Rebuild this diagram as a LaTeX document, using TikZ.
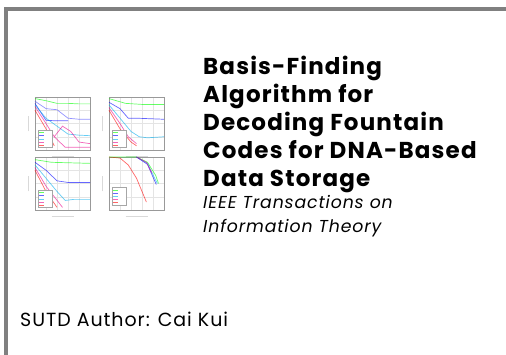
\documentclass[tikz,border=0pt]{standalone}
\usepackage{fontspec}
\setmainfont{Poppins}[LetterSpace=5]
\usetikzlibrary{positioning}

\definecolor{framegray}{RGB}{128,128,128}
\definecolor{gridgray}{RGB}{228,228,228}

\tikzset{
  panelbox/.style={draw=black!40, line width=0.4pt},
  panelgrid/.style={draw=gridgray, line width=0.3pt},
  curve/.style={line width=0.7pt, opacity=0.6},
  legendbox/.style={draw=black!35, fill=white, line width=0.3pt},
  captionline/.style={draw=black!15, line width=0.9pt},
}

% one small plot, drawn in unit coordinates
\newcommand{\plotpanel}[2]{%
  \begin{scope}[shift={(#1,#2)}, x=55pt, y=53pt]
    \foreach \gx in {0.2,0.4,0.6,0.8} \draw[panelgrid] (\gx,0) -- (\gx,1);
    \foreach \gy in {0.25,0.5,0.75} \draw[panelgrid] (0,\gy) -- (1,\gy);
    \draw[panelbox] (0,0) rectangle (1,1);
    \draw[captionline] (-0.12,0.35) -- (-0.12,0.65);
    \draw[captionline] (0.3,-0.12) -- (0.7,-0.12);
  \end{scope}}

\begin{document}
\begin{tikzpicture}[x=1pt, y=-1pt]
    \pgfmathsetmacro{\textleft}{203}
    \useasboundingbox (0,0) rectangle (506,355);
    \fill[white] (0,0) rectangle (506,355);
    % frame on top and left only
    \draw[framegray, line width=4pt] (6,355) -- (6,9) -- (506,9);

    % thumbnail of the four result plots
    \plotpanel{35}{150}
    \plotpanel{109}{150}
    \plotpanel{35}{210}
    \plotpanel{109}{210}
    \begin{scope}[shift={(35,150)}, x=55pt, y=53pt]
      \draw[curve, green] (0,.97) -- (.2,.93) -- (.4,.88) -- (.6,.88) -- (.8,.87) -- (1,.87);
      \draw[curve, blue!70] (0,.92) -- (.2,.78) -- (.4,.76) -- (.6,.6) -- (.8,.58) -- (1,.58);
      \draw[curve, blue] (0,.88) -- (.2,.56) -- (.4,.55) -- (.6,.55);
      \draw[curve, cyan] (0,.85) -- (.2,.6) -- (.4,.45) -- (.6,.3) -- (.8,.28) -- (1,.27);
      \draw[curve, magenta] (0,.82) -- (.2,.5) -- (.35,.25) -- (.5,.45) -- (.65,.35) -- (.8,.15) -- (1,.12);
      \draw[curve, magenta] (.35,.25) -- (.55,.05) -- (1,.05);
      \draw[curve, red] (0,.75) -- (.2,.4) -- (.35,.08);
      \draw[legendbox] (.05,.05) rectangle (.32,.38);
      \foreach \ly/\lc in {.33/green,.27/blue,.21/cyan,.15/magenta,.09/red}
        \draw[curve, \lc] (.08,\ly) -- (.16,\ly);
    \end{scope}
    \begin{scope}[shift={(109,150)}, x=55pt, y=53pt]
      \draw[curve, green] (0,.97) -- (.3,.88) -- (.6,.86) -- (1,.86);
      \draw[curve, blue] (0,.9) -- (.2,.78) -- (.35,.6) -- (.5,.6) -- (1,.58);
      \draw[curve, cyan] (0,.85) -- (.2,.6) -- (.4,.35) -- (.55,.25) -- (.7,.23) -- (1,.25);
      \draw[curve, magenta] (0,.8) -- (.2,.5) -- (.35,.25) -- (.5,.12);
      \draw[curve, red] (0,.75) -- (.2,.4) -- (.4,.15) -- (.5,.08);
      \draw[legendbox] (.05,.05) rectangle (.32,.38);
      \foreach \ly/\lc in {.33/green,.27/blue,.21/cyan,.15/magenta,.09/red}
        \draw[curve, \lc] (.08,\ly) -- (.16,\ly);
    \end{scope}
    \begin{scope}[shift={(35,210)}, x=55pt, y=53pt]
      \draw[curve, green] (0,.95) -- (.3,.9) -- (1,.88);
      \draw[curve, blue] (0,.9) -- (.2,.75) -- (.4,.55) -- (.6,.52) -- (1,.52);
      \draw[curve, cyan] (0,.85) -- (.2,.6) -- (.4,.35) -- (.55,.18) -- (.7,.2) -- (1,.2);
      \draw[curve, magenta] (0,.8) -- (.2,.45) -- (.35,.25) -- (.5,.05);
      \draw[curve, red] (0,.75) -- (.2,.35) -- (.4,.05);
      \draw[legendbox] (.05,.05) rectangle (.32,.38);
      \foreach \ly/\lc in {.33/green,.27/blue,.21/cyan,.15/magenta,.09/red}
        \draw[curve, \lc] (.08,\ly) -- (.16,\ly);
    \end{scope}
    \begin{scope}[shift={(109,210)}, x=55pt, y=53pt]
      \draw[curve, red] (0,1) -- (.2,.98) -- (.35,.85) -- (.5,.6) -- (.6,.35) -- (.68,.15);
      \draw[curve, green] (0,1) -- (.5,1) -- (.7,.9) -- (.85,.65) -- (.9,.5);
      \draw[curve, cyan] (.5,1) -- (.7,.88) -- (.82,.62) -- (.88,.5);
      \draw[curve, blue] (.5,1) -- (.7,.86) -- (.8,.62) -- (.86,.48);
      \draw[curve, magenta] (.5,1) -- (.68,.9) -- (.78,.7);
      \draw[legendbox] (.05,.1) rectangle (.32,.43);
      \foreach \ly/\lc in {.38/green,.32/blue,.26/cyan,.2/magenta,.14/red}
        \draw[curve, \lc] (.08,\ly) -- (.16,\ly);
    \end{scope}

    % paper title, venue and author
    \node[anchor=north west, inner sep=0, align=left,
          font=\fontsize{23}{28}\selectfont\bfseries] (title) at (\textleft,56)
      {Basis-Finding\\Algorithm for\\Decoding Fountain\\Codes for DNA-Based\\Data Storage};
    \node[below=2pt of title.south west, anchor=north west, inner sep=0, align=left,
          font=\fontsize{17.3}{24}\selectfont\itshape] (venue)
      {IEEE Transactions on\\Information Theory};
    \node[anchor=west, inner sep=0, font=\fontsize{19}{20}\selectfont] (author) at (20,319)
      {SUTD Author: Cai Kui};
\end{tikzpicture}
\end{document}
